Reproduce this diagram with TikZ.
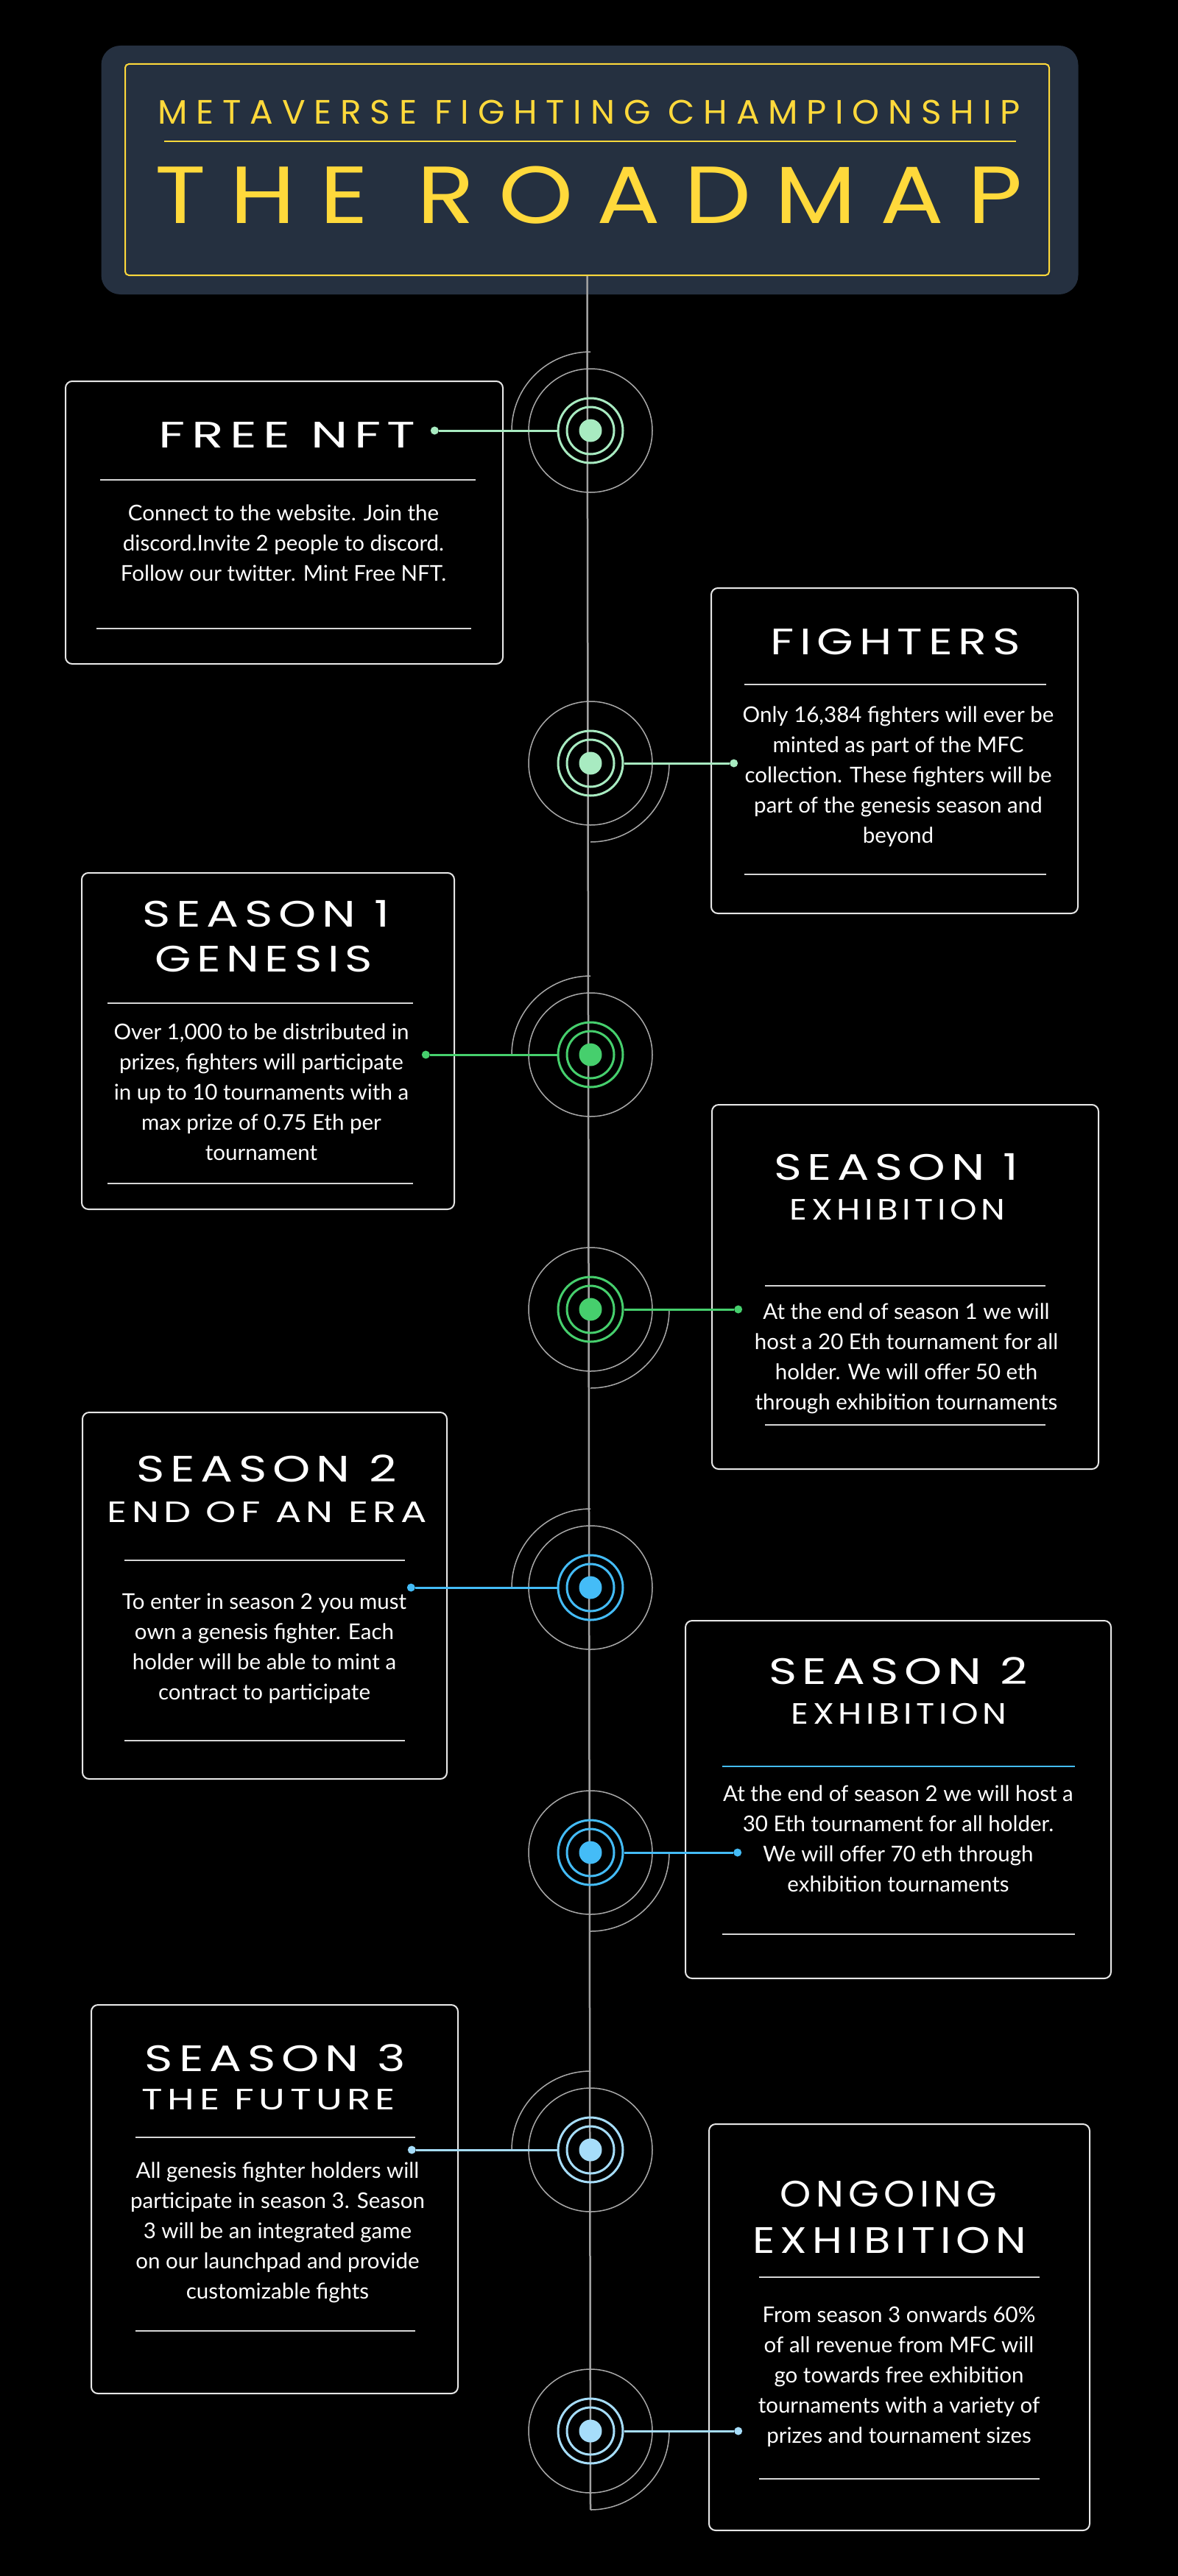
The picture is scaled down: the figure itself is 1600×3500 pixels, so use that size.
\documentclass[tikz,border=0pt]{standalone}
\usepackage{fontspec}
\usepackage{graphicx}
\usepackage{xcolor}
\usetikzlibrary{positioning}

\setmainfont{Lato}
\newfontfamily\headfont[LetterSpace=25]{Poppins}
\newfontfamily\cardfont[LetterSpace=12]{Poppins}
\newfontfamily\bodyfont{Lato}
\newcommand{\spreadt}[2]{\resizebox{#1}{\height}{#2}}
\newcommand{\spread}[2]{\resizebox{#1}{\height}{#2}}

\definecolor{navy}{HTML}{253040}
\definecolor{gold}{HTML}{FFD93B}
\definecolor{mint}{HTML}{A8EBC1}
\definecolor{leaf}{HTML}{46CF6D}
\definecolor{sky}{HTML}{44BCF7}
\definecolor{ice}{HTML}{A6DDFA}
\definecolor{halogrey}{HTML}{A8A8A8}
\definecolor{spine}{HTML}{A0A0A0}
\definecolor{frame}{HTML}{E6E6E6}
\definecolor{rule}{HTML}{D6D6D6}

\begin{document}
\begin{tikzpicture}
		[x=1pt,y=-1pt,
		titlebox/.style={rectangle,fill=navy,rounded corners=26pt,inner sep=0pt,minimum width=1327pt,minimum height=338pt},
		goldframe/.style={rectangle,draw=gold,line width=2pt,rounded corners=5pt,inner sep=0pt,minimum width=1255pt,minimum height=287pt},
		card/.style={rectangle,draw=frame,line width=2pt,rounded corners=9pt,inner sep=0pt},
		head/.style={text=white,font=\cardfont\fontsize{50}{50}\selectfont,anchor=base,inner sep=0pt},
		sub/.style={head,font=\cardfont\fontsize{40}{40}\selectfont},
		body/.style={text=white,font=\bodyfont\fontsize{29.5}{41}\selectfont,align=center,anchor=north,inner sep=0pt},
		rulel/.style={draw=rule,line width=2pt},
		halo/.style={circle,draw=halogrey,line width=1.5pt,inner sep=0pt,minimum size=168pt},
		arcline/.style={draw=halogrey,line width=1.5pt},
		ringout/.style={circle,draw=#1,line width=3pt,inner sep=0pt,minimum size=88pt},
		ringin/.style={circle,draw=#1,line width=3pt,inner sep=0pt,minimum size=64pt},
		core/.style={circle,fill=#1,inner sep=0pt,minimum size=31pt},
		dot/.style={circle,fill=#1,inner sep=0pt,minimum size=11pt},
		link/.style={draw=#1,line width=3pt}]

		\fill[black] (0,0) rectangle (1600,3500);
		\useasboundingbox (0,0) rectangle (1600,3500);

		\node [titlebox] (tb) at (801,231) {};
		\node [goldframe] (gf) at (797.5,230.5) {};
		\node [text=gold,font=\headfont\fontsize{46}{46}\selectfont,anchor=base,inner sep=0pt] (mfc) at (800,169) {\spreadt{1171pt}{METAVERSE FIGHTING CHAMPIONSHIP}};
		\draw [draw=gold,line width=2.5pt] (223,192) -- (1380,192);
		\node [text=gold,font=\headfont\fontsize{110}{110}\selectfont,anchor=base,inner sep=0pt] (rm) at (800,303) {\spreadt{1178pt}{THE ROADMAP}};

		\coordinate (tail) at (802,3410);
		\draw [draw=spine,line width=2.5pt] (gf.south) -- (tail);

		\node [card,minimum width=594pt,minimum height=384pt] (c1) at (386,710) {};
		\node [head] (t1) at (390,608) {\spread{349pt}{FREE NFT}};
		\draw [rulel] (136,652) -- (646,652);
		\node [body] (p1) at (385,686) {Connect to the website. Join the\\discord.Invite 2 people to discord.\\Follow our twitter. Mint Free NFT.};
		\draw [rulel] (131,854) -- (640,854);

		\node [card,minimum width=498pt,minimum height=442pt] (c2) at (1215,1020) {};
		\node [head] (t2) at (1216,889) {\spread{339pt}{FIGHTERS}};
		\draw [rulel] (1011,930) -- (1421,930);
		\node [body] (p2) at (1220,960) {Only 16,384 fighters will ever be\\minted as part of the MFC\\collection. These fighters will be\\part of the genesis season and\\beyond};
		\draw [rulel] (1011,1188) -- (1421,1188);

		\node [card,minimum width=506pt,minimum height=457pt] (c3) at (364,1414.5) {};
		\node [head] (t3) at (361,1259) {\spread{336pt}{SEASON 1}};
		\node [head] (u3) at (358,1320) {\spread{295pt}{GENESIS}};
		\draw [rulel] (146,1363) -- (561,1363);
		\node [body] (p3) at (355,1391) {Over 1,000 to be distributed in\\prizes, fighters will participate\\in up to 10 tournaments with a\\max prize of 0.75 Eth per\\tournament};
		\draw [rulel] (146,1608) -- (561,1608);

		\node [card,minimum width=525pt,minimum height=495pt] (c4) at (1229.5,1748.5) {};
		\node [head] (t4) at (1217,1603) {\spread{332pt}{SEASON 1}};
		\node [sub] (u4) at (1219,1657) {\spread{293pt}{EXHIBITION}};
		\draw [rulel] (1039,1747) -- (1420,1747);
		\node [body] (p4) at (1231,1771) {At the end of season 1 we will\\host a 20 Eth tournament for all\\holder. We will offer 50 eth\\through exhibition tournaments};
		\draw [rulel] (1039,1936) -- (1420,1936);

		\node [card,minimum width=495pt,minimum height=498pt] (c5) at (359.5,2168) {};
		\node [head] (t5) at (362,2013) {\spread{353pt}{SEASON 2}};
		\node [sub] (u5) at (363,2068) {\spread{434pt}{END OF AN ERA}};
		\draw [rulel] (169,2120) -- (550,2120);
		\node [body] (p5) at (359,2165) {To enter in season 2 you must\\own a genesis fighter. Each\\holder will be able to mint a\\contract to participate};
		\draw [rulel] (169,2365) -- (550,2365);

		\node [card,minimum width=578pt,minimum height=486pt] (c6) at (1220,2445) {};
		\node [head] (t6) at (1220,2288) {\spread{352pt}{SEASON 2}};
		\node [sub] (u6) at (1221,2342) {\spread{293pt}{EXHIBITION}};
		\draw [draw=sky,line width=2pt] (981,2400) -- (1460,2400);
		\node [body] (p6) at (1220,2426) {At the end of season 2 we will host a\\30 Eth tournament for all holder.\\We will offer 70 eth through\\exhibition tournaments};
		\draw [rulel] (981,2628) -- (1460,2628);

		\node [card,minimum width=498pt,minimum height=528pt] (c7) at (373,2988) {};
		\node [head] (t7) at (374,2814) {\spread{354pt}{SEASON 3}};
		\node [sub] (u7) at (365,2866) {\spread{344pt}{THE FUTURE}};
		\draw [rulel] (184,2904) -- (564,2904);
		\node [body] (p7) at (377,2938) {All genesis fighter holders will\\participate in season 3. Season\\3 will be an integrated game\\on our launchpad and provide\\customizable fights};
		\draw [rulel] (184,3167) -- (564,3167);

		\node [card,minimum width=517pt,minimum height=552pt] (c8) at (1221.5,3162) {};
		\node [head] (t8) at (1207,2998) {\spread{295pt}{ONGOING}};
		\node [head] (u8) at (1208,3061) {\spread{372pt}{EXHIBITION}};
		\draw [rulel] (1031,3094) -- (1412,3094);
		\node [body] (p8) at (1221,3134) {From season 3 onwards 60\%\\of all revenue from MFC will\\go towards free exhibition\\tournaments with a variety of\\prizes and tournament sizes};
		\draw [rulel] (1031,3368) -- (1412,3368);

		\node [halo] (h1) at (802,585) {};
		\draw [arcline] (h1.center) ++(-107,0) arc [start angle=180,end angle=90,radius=107pt];
		\node [ringout=mint] (r1) at (h1) {};
		\node [dot=mint] (d1) [left=160.5pt of r1] {};
		\draw [link=mint] (r1.west) -- (d1);
		\node [ringin=mint] (s1) at (h1) {};
		\node [core=mint] (k1) at (h1) {};

		\node [halo] (h2) at (802,1037) {};
		\draw [arcline] (h2.center) ++(107,0) arc [start angle=0,end angle=-90,radius=107pt];
		\node [ringout=mint] (r2) at (h2) {};
		\node [dot=mint] (d2) [right=143.5pt of r2] {};
		\draw [link=mint] (r2.east) -- (d2);
		\node [ringin=mint] (s2) at (h2) {};
		\node [core=mint] (k2) at (h2) {};

		\node [halo] (h3) at (802,1433) {};
		\draw [arcline] (h3.center) ++(-107,0) arc [start angle=180,end angle=90,radius=107pt];
		\node [ringout=leaf] (r3) at (h3) {};
		\node [dot=leaf] (d3) [left=172.5pt of r3] {};
		\draw [link=leaf] (r3.west) -- (d3);
		\node [ringin=leaf] (s3) at (h3) {};
		\node [core=leaf] (k3) at (h3) {};

		\node [halo] (h4) at (802,1779) {};
		\draw [arcline] (h4.center) ++(107,0) arc [start angle=0,end angle=-90,radius=107pt];
		\node [ringout=leaf] (r4) at (h4) {};
		\node [dot=leaf] (d4) [right=149.5pt of r4] {};
		\draw [link=leaf] (r4.east) -- (d4);
		\node [ringin=leaf] (s4) at (h4) {};
		\node [core=leaf] (k4) at (h4) {};

		\node [halo] (h5) at (802,2157) {};
		\draw [arcline] (h5.center) ++(-107,0) arc [start angle=180,end angle=90,radius=107pt];
		\node [ringout=sky] (r5) at (h5) {};
		\node [dot=sky] (d5) [left=192.5pt of r5] {};
		\draw [link=sky] (r5.west) -- (d5);
		\node [ringin=sky] (s5) at (h5) {};
		\node [core=sky] (k5) at (h5) {};

		\node [halo] (h6) at (802,2517) {};
		\draw [arcline] (h6.center) ++(107,0) arc [start angle=0,end angle=-90,radius=107pt];
		\node [ringout=sky] (r6) at (h6) {};
		\node [dot=sky] (d6) [right=148.5pt of r6] {};
		\draw [link=sky] (r6.east) -- (d6);
		\node [ringin=sky] (s6) at (h6) {};
		\node [core=sky] (k6) at (h6) {};

		\node [halo] (h7) at (802,2921) {};
		\draw [arcline] (h7.center) ++(-107,0) arc [start angle=180,end angle=90,radius=107pt];
		\node [ringout=ice] (r7) at (h7) {};
		\node [dot=ice] (d7) [left=191.5pt of r7] {};
		\draw [link=ice] (r7.west) -- (d7);
		\node [ringin=ice] (s7) at (h7) {};
		\node [core=ice] (k7) at (h7) {};

		\node [halo] (h8) at (802,3303) {};
		\draw [arcline] (h8.center) ++(107,0) arc [start angle=0,end angle=-90,radius=107pt];
		\node [ringout=ice] (r8) at (h8) {};
		\node [dot=ice] (d8) [right=149.5pt of r8] {};
		\draw [link=ice] (r8.east) -- (d8);
		\node [ringin=ice] (s8) at (h8) {};
		\node [core=ice] (k8) at (h8) {};

	\end{tikzpicture}
\end{document}
